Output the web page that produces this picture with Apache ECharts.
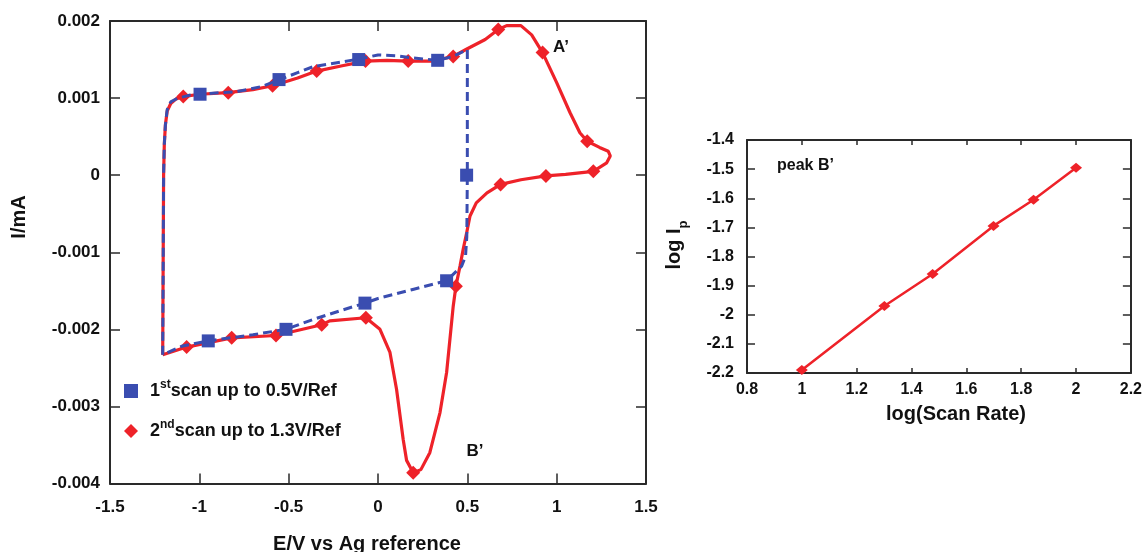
<!DOCTYPE html>
<html>
<head>
<meta charset="utf-8">
<script src="https://cdn.jsdelivr.net/npm/echarts@6/dist/echarts.min.js"></script>
<style>
  html, body { margin: 0; padding: 0; background: #fff; }
  #chart { width: 1145px; height: 552px; }
</style>
</head>
<body>
<div id="chart"></div>
<script>
// 1st scan (blue dashed) - potential (V) and current (mA), traced as a closed loop
const scan1E = [-1.205, -1.203, -1.2, -1.196, -1.19, -1.18, -1.16, -1.12, -1.05, -0.95, -0.8, -0.65, -0.55, -0.45, -0.36, -0.2, -0.1, 0.0, 0.1, 0.2, 0.334, 0.42, 0.5,
  0.5, 0.497, 0.49, 0.468, 0.384, 0.2, 0.0, -0.073, -0.2, -0.36, -0.515, -0.7, -0.95, -1.1, -1.205]
const scan1I = [-0.00233, -0.0015, 0.0, 0.0004, 0.00065, 0.00085, 0.00095, 0.001, 0.00104, 0.00106, 0.00108, 0.00115, 0.00124, 0.00133, 0.00141, 0.00147, 0.00151, 0.00156, 0.00155, 0.00152, 0.00149, 0.00154, 0.00163,
  0.0, -0.0008, -0.00105, -0.00118, -0.00137, -0.00148, -0.0016, -0.00166, -0.00175, -0.00187, -0.002, -0.00207, -0.00215, -0.00222, -0.00233]
const scan1MarkE = [-0.996, -0.554, -0.108, 0.334, 0.496, 0.384, -0.073, -0.515, -0.95]
const scan1MarkI = [0.00105, 0.00124, 0.0015, 0.00149, 0.0, -0.00137, -0.00166, -0.002, -0.00215]

// 2nd scan (red solid)
const scan2E = [-1.205, -1.2, -1.196, -1.19, -1.18, -1.16, -1.13, -1.09, -1.0, -0.84, -0.7, -0.59, -0.45, -0.343, -0.2, -0.07, 0.05, 0.169, 0.3, 0.421, 0.5,
  0.6, 0.673, 0.72, 0.8, 0.86, 0.921, 1.0, 1.075, 1.13, 1.171, 1.24, 1.289, 1.3, 1.28, 1.205, 1.05, 0.94, 0.8, 0.686, 0.61, 0.55, 0.515, 0.496, 0.477,
  0.459, 0.436, 0.421, 0.384, 0.347, 0.29, 0.24, 0.197, 0.16, 0.141, 0.104, 0.067, 0.011, -0.068, -0.27, -0.315, -0.571, -0.819, -1.071, -1.205]
const scan2I = [-0.00233, 0.0, 0.0004, 0.00065, 0.00083, 0.00093, 0.00099, 0.00102, 0.00105, 0.00107, 0.00111, 0.00116, 0.00126, 0.00135, 0.00142, 0.00148, 0.00149, 0.00148, 0.00148, 0.00154, 0.00164,
  0.00176, 0.00189, 0.00194, 0.00194, 0.00182, 0.00159, 0.0012, 0.00081, 0.00055, 0.00044, 0.00036, 0.00031, 0.00025, 0.00016, 0.00005, 0.00001, -0.00001, -0.00006, -0.00012, -0.00023, -0.00036, -0.00053, -0.00075, -0.00096,
  -0.00118, -0.00144, -0.0017, -0.00256, -0.00308, -0.0036, -0.00382, -0.00386, -0.0037, -0.00343, -0.00278, -0.0023, -0.002, -0.00185, -0.00189, -0.00194, -0.00208, -0.00211, -0.00223, -0.00233]
const scan2MarkE = [-1.09, -0.838, -0.59, -0.343, -0.07, 0.169, 0.421, 0.673, 0.921, 1.171, 1.205, 0.94, 0.686, 0.436, 0.197, -0.068, -0.315, -0.571, -0.819, -1.071]
const scan2MarkI = [0.00102, 0.00107, 0.00116, 0.00135, 0.00148, 0.00148, 0.00154, 0.00189, 0.00159, 0.00044, 0.00005, -0.00001, -0.00012, -0.00144, -0.00386, -0.00185, -0.00194, -0.00208, -0.00211, -0.00223]

// peak B' : log(scan rate) vs log Ip
const logRate = [1, 1.301, 1.477, 1.699, 1.845, 2]
const logIp = [-2.19, -1.97, -1.86, -1.695, -1.605, -1.495]

const scan1Name = '1st scan up to 0.5V/Ref'
const scan2Name = '2nd scan up to 1.3V/Ref'

const BLUE = '#3a4db0'
const RED = '#ee2229'
const FONT = "'Liberation Sans', Arial, sans-serif"
const INK = '#111'
const AXIS = '#2a2a2a'

const pairs = (xs, ys) => xs.map((x, i) => [x, ys[i]])

const frameAxis = (extra, tickLen) => Object.assign({
  type: 'value',
  splitLine: { show: false },
  axisLine: { onZero: false, lineStyle: { color: AXIS, width: 2 } },
  axisTick: { inside: true, length: tickLen, lineStyle: { color: AXIS, width: 1.5 } },
  axisLabel: { color: INK, fontFamily: FONT, fontWeight: 'bold', fontSize: 17 },
}, extra)

const chart = echarts.init(document.getElementById('chart'))

const option = {
  animation: false,
  backgroundColor: '#fff',
  grid: [
    { left: 110, right: 499, top: 21, bottom: 68.5 },
    { left: 747, right: 12, top: 140, bottom: 179 },
  ],
  xAxis: [
    frameAxis({ gridIndex: 0, min: -1.5, max: 1.5, interval: 0.5,
      axisLabel: { color: INK, fontFamily: FONT, fontWeight: 'bold', fontSize: 17, margin: 15 } }, 10),
    frameAxis({ gridIndex: 0, position: 'top', min: -1.5, max: 1.5, interval: 0.5, axisLabel: { show: false } }, 10),
    frameAxis({ gridIndex: 1, min: 0.8, max: 2.2, interval: 0.2,
      axisTick: { inside: true, length: 5, lineStyle: { color: AXIS, width: 1.5 } },
      axisLabel: { color: INK, fontFamily: FONT, fontWeight: 'bold', fontSize: 16, margin: 9 } }, 5),
    frameAxis({ gridIndex: 1, position: 'top', min: 0.8, max: 2.2, interval: 0.2, axisLabel: { show: false } }, 5),
  ],
  yAxis: [
    frameAxis({ gridIndex: 0, min: -0.004, max: 0.002, interval: 0.001,
      axisLabel: { color: INK, fontFamily: FONT, fontWeight: 'bold', fontSize: 17, margin: 10 } }, 10),
    frameAxis({ gridIndex: 0, position: 'right', min: -0.004, max: 0.002, interval: 0.001, axisLabel: { show: false } }, 10),
    frameAxis({ gridIndex: 1, min: -2.2, max: -1.4, interval: 0.1,
      axisLabel: { color: INK, fontFamily: FONT, fontWeight: 'bold', fontSize: 16, margin: 13 } }, 8),
    frameAxis({ gridIndex: 1, position: 'right', min: -2.2, max: -1.4, interval: 0.1, axisLabel: { show: false } }, 8),
  ],
  legend: {
    orient: 'vertical',
    left: 119,
    top: 374,
    itemWidth: 14,
    itemHeight: 14,
    itemGap: 16,
    selectedMode: false,
    data: [
      { name: scan1Name, icon: 'rect' },
      { name: scan2Name, icon: 'diamond' },
    ],
    formatter: (name) => name.replace(/^(\d)(st|nd) /, '$1{sup|$2}'),
    textStyle: {
      color: INK,
      fontFamily: FONT,
      fontWeight: 'bold',
      fontSize: 18,
      lineHeight: 24,
      padding: [0, 0, 0, 7],
      rich: {
        sup: { fontFamily: FONT, fontWeight: 'bold', fontSize: 12, lineHeight: 14, verticalAlign: 'top', color: INK },
      },
    },
  },
  graphic: [
    { type: 'text', x: 19, y: 217, rotation: Math.PI / 2,
      style: { text: 'I/mA', font: 'bold 20px ' + FONT, fill: INK, align: 'center', verticalAlign: 'middle' } },
    { type: 'text', x: 367, y: 544,
      style: { text: 'E/V vs Ag reference', font: 'bold 20px ' + FONT, fill: INK, align: 'center', verticalAlign: 'middle' } },
    { type: 'text', x: 561, y: 47.5,
      style: { text: 'A\u2019', font: 'bold 17px ' + FONT, fill: INK, align: 'center', verticalAlign: 'middle' } },
    { type: 'text', x: 475, y: 451.5,
      style: { text: 'B\u2019', font: 'bold 17px ' + FONT, fill: INK, align: 'center', verticalAlign: 'middle' } },
    { type: 'text', x: 674, y: 245, rotation: Math.PI / 2,
      style: {
        text: 'log I{sub|p}', font: 'bold 20px ' + FONT, fill: INK, align: 'center', verticalAlign: 'middle',
        rich: { sub: { font: 'bold 13px ' + FONT, fill: INK, verticalAlign: 'bottom', lineHeight: 14, padding: [0, 0, -6, 0] } },
      } },
    { type: 'text', x: 956, y: 414,
      style: { text: 'log(Scan Rate)', font: 'bold 20px ' + FONT, fill: INK, align: 'center', verticalAlign: 'middle' } },
    { type: 'text', x: 777, y: 165.5,
      style: { text: 'peak B\u2019', font: 'bold 16px ' + FONT, fill: INK, align: 'left', verticalAlign: 'middle' } },
  ],
  series: [
    {
      name: scan2Name, type: 'line', xAxisIndex: 0, yAxisIndex: 0,
      data: pairs(scan2E, scan2I), showSymbol: false, symbol: 'none', z: 2,
      lineStyle: { color: RED, width: 3.2 }, itemStyle: { color: RED },
    },
    {
      name: scan2Name, type: 'scatter', xAxisIndex: 0, yAxisIndex: 0,
      data: pairs(scan2MarkE, scan2MarkI), symbol: 'diamond', symbolSize: 14, z: 3,
      itemStyle: { color: RED, opacity: 1 },
    },
    {
      name: scan1Name, type: 'line', xAxisIndex: 0, yAxisIndex: 0,
      data: pairs(scan1E, scan1I), showSymbol: false, symbol: 'none', z: 4,
      lineStyle: { color: BLUE, width: 3, type: [9, 5] }, itemStyle: { color: BLUE },
    },
    {
      name: scan1Name, type: 'scatter', xAxisIndex: 0, yAxisIndex: 0,
      data: pairs(scan1MarkE, scan1MarkI), symbol: 'rect', symbolSize: 13, z: 5,
      itemStyle: { color: BLUE, opacity: 1 },
    },
    {
      name: 'peak B', type: 'line', xAxisIndex: 2, yAxisIndex: 2,
      data: pairs(logRate, logIp), symbol: 'diamond', symbolSize: [12, 10], showSymbol: true,
      lineStyle: { color: RED, width: 2.5 }, itemStyle: { color: RED },
    },
  ],
}

chart.setOption(option)
</script>
</body>
</html>
